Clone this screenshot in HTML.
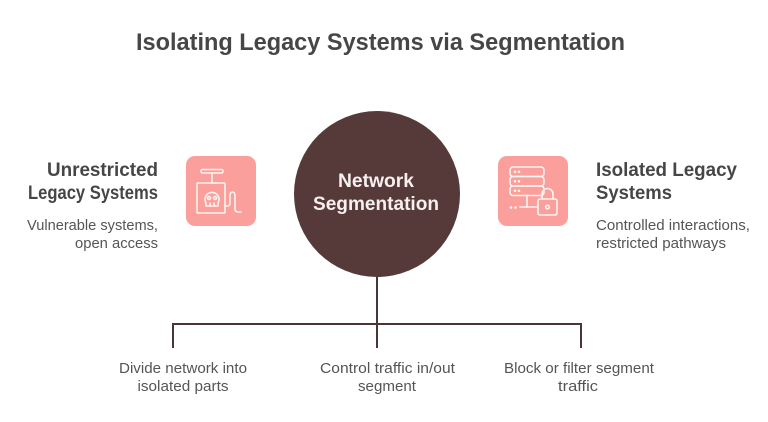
<!DOCTYPE html>
<html><head><meta charset="utf-8"><style>
html,body{margin:0;padding:0;background:#fff;}
svg{display:block;}
text{font-family:"Liberation Sans",Arial,sans-serif;}
</style></head><body>
<svg width="768" height="422" viewBox="0 0 768 422" xmlns="http://www.w3.org/2000/svg">
<rect width="768" height="422" fill="#fff"/>
<text x="380.5" y="50" font-size="24" font-weight="bold" fill="#464646" text-anchor="middle" textLength="489" lengthAdjust="spacingAndGlyphs">Isolating Legacy Systems via Segmentation</text>

<!-- left text -->
<text x="158" y="176" font-size="19" font-weight="bold" fill="#464646" text-anchor="end" textLength="111" lengthAdjust="spacingAndGlyphs">Unrestricted</text>
<text x="158" y="199" font-size="19" font-weight="bold" fill="#464646" text-anchor="end" textLength="130" lengthAdjust="spacingAndGlyphs">Legacy Systems</text>
<text x="158" y="230" font-size="14.5" fill="#555" text-anchor="end" textLength="131" lengthAdjust="spacingAndGlyphs">Vulnerable systems,</text>
<text x="158" y="248" font-size="14.5" fill="#555" text-anchor="end" textLength="83" lengthAdjust="spacingAndGlyphs">open access</text>

<!-- right text -->
<text x="596" y="176" font-size="19" font-weight="bold" fill="#464646" textLength="141" lengthAdjust="spacingAndGlyphs">Isolated Legacy</text>
<text x="596" y="199" font-size="19" font-weight="bold" fill="#464646" textLength="76" lengthAdjust="spacingAndGlyphs">Systems</text>
<text x="596" y="230" font-size="14.5" fill="#555" textLength="154" lengthAdjust="spacingAndGlyphs">Controlled interactions,</text>
<text x="596" y="248" font-size="14.5" fill="#555" textLength="130" lengthAdjust="spacingAndGlyphs">restricted pathways</text>

<!-- icon boxes -->
<rect x="186" y="156" width="70" height="70" rx="9" fill="#fa9f9b"/>
<rect x="498" y="156" width="70" height="70" rx="9" fill="#fa9f9b"/>

<!-- left icon: detonator with skull -->
<g fill="none" stroke="#fff4f0" stroke-width="1.6" stroke-linecap="round" stroke-linejoin="round">
  <rect x="201" y="169.5" width="22" height="3.5" rx="1.5"/>
  <line x1="212" y1="173" x2="212" y2="183"/>
  <rect x="197" y="183" width="28" height="30" rx="1"/>
  <path d="M206 203 A7 7 0 1 1 218 203 L218 206 L206 206 Z"/>
  <circle cx="209" cy="198" r="1.5"/>
  <circle cx="215" cy="198" r="1.5"/>
  <line x1="210" y1="203" x2="210" y2="206"/>
  <line x1="214" y1="203" x2="214" y2="206"/>
  <path d="M225 206 L228 206 Q230 206 230 202 L230 196 Q230 192 232.5 192 Q235 192 235 196 L235 209 Q235 212 238 212 L241 212"/>
</g>

<!-- right icon: servers with lock -->
<g fill="none" stroke="#fff4f0" stroke-width="1.6" stroke-linecap="round" stroke-linejoin="round">
  <rect x="510" y="167" width="34" height="9.5" rx="3"/>
  <rect x="510" y="176.5" width="34" height="9.5" rx="3"/>
  <rect x="510" y="186" width="34" height="9.5" rx="3"/>
  <line x1="527" y1="195.5" x2="527" y2="207"/>
  <line x1="520" y1="207" x2="537" y2="207"/>
  <path d="M542 199 L542 194 A5.5 5.5 0 0 1 553 194 L553 199"/>
  <rect x="538" y="199" width="19" height="16" rx="2"/>
  <circle cx="547.5" cy="207" r="1.8"/>
</g>
<g fill="#fff4f0">
  <circle cx="515" cy="171.8" r="1.3"/><circle cx="519" cy="171.8" r="1.3"/>
  <circle cx="515" cy="181.3" r="1.3"/><circle cx="519" cy="181.3" r="1.3"/>
  <circle cx="515" cy="190.8" r="1.3"/><circle cx="519" cy="190.8" r="1.3"/>
  <circle cx="511" cy="207.5" r="1.3"/><circle cx="515.5" cy="207.5" r="1.3"/>
</g>

<!-- center circle -->
<circle cx="377" cy="194" r="83" fill="#553a39"/>
<text x="376" y="187" font-size="19" font-weight="bold" fill="#f7f0ef" text-anchor="middle" textLength="76" lengthAdjust="spacingAndGlyphs">Network</text>
<text x="376" y="210" font-size="19" font-weight="bold" fill="#f7f0ef" text-anchor="middle" textLength="126" lengthAdjust="spacingAndGlyphs">Segmentation</text>

<!-- connectors -->
<g stroke="#4a3636" stroke-width="2" fill="none">
  <line x1="377" y1="277" x2="377" y2="348"/>
  <line x1="173" y1="324" x2="581" y2="324"/>
  <line x1="173" y1="323" x2="173" y2="348"/>
  <line x1="581" y1="323" x2="581" y2="348"/>
</g>

<!-- bottom labels -->
<g font-size="14.5" fill="#555" text-anchor="middle">
  <text x="183" y="373" textLength="128" lengthAdjust="spacingAndGlyphs">Divide network into</text>
  <text x="183" y="391" textLength="91" lengthAdjust="spacingAndGlyphs">isolated parts</text>
  <text x="387.5" y="373" textLength="135" lengthAdjust="spacingAndGlyphs">Control traffic in/out</text>
  <text x="387" y="391" textLength="58" lengthAdjust="spacingAndGlyphs">segment</text>
  <text x="579" y="373" textLength="150" lengthAdjust="spacingAndGlyphs">Block or filter segment</text>
  <text x="578" y="391" textLength="40" lengthAdjust="spacingAndGlyphs">traffic</text>
</g>
</svg>
</body></html>
